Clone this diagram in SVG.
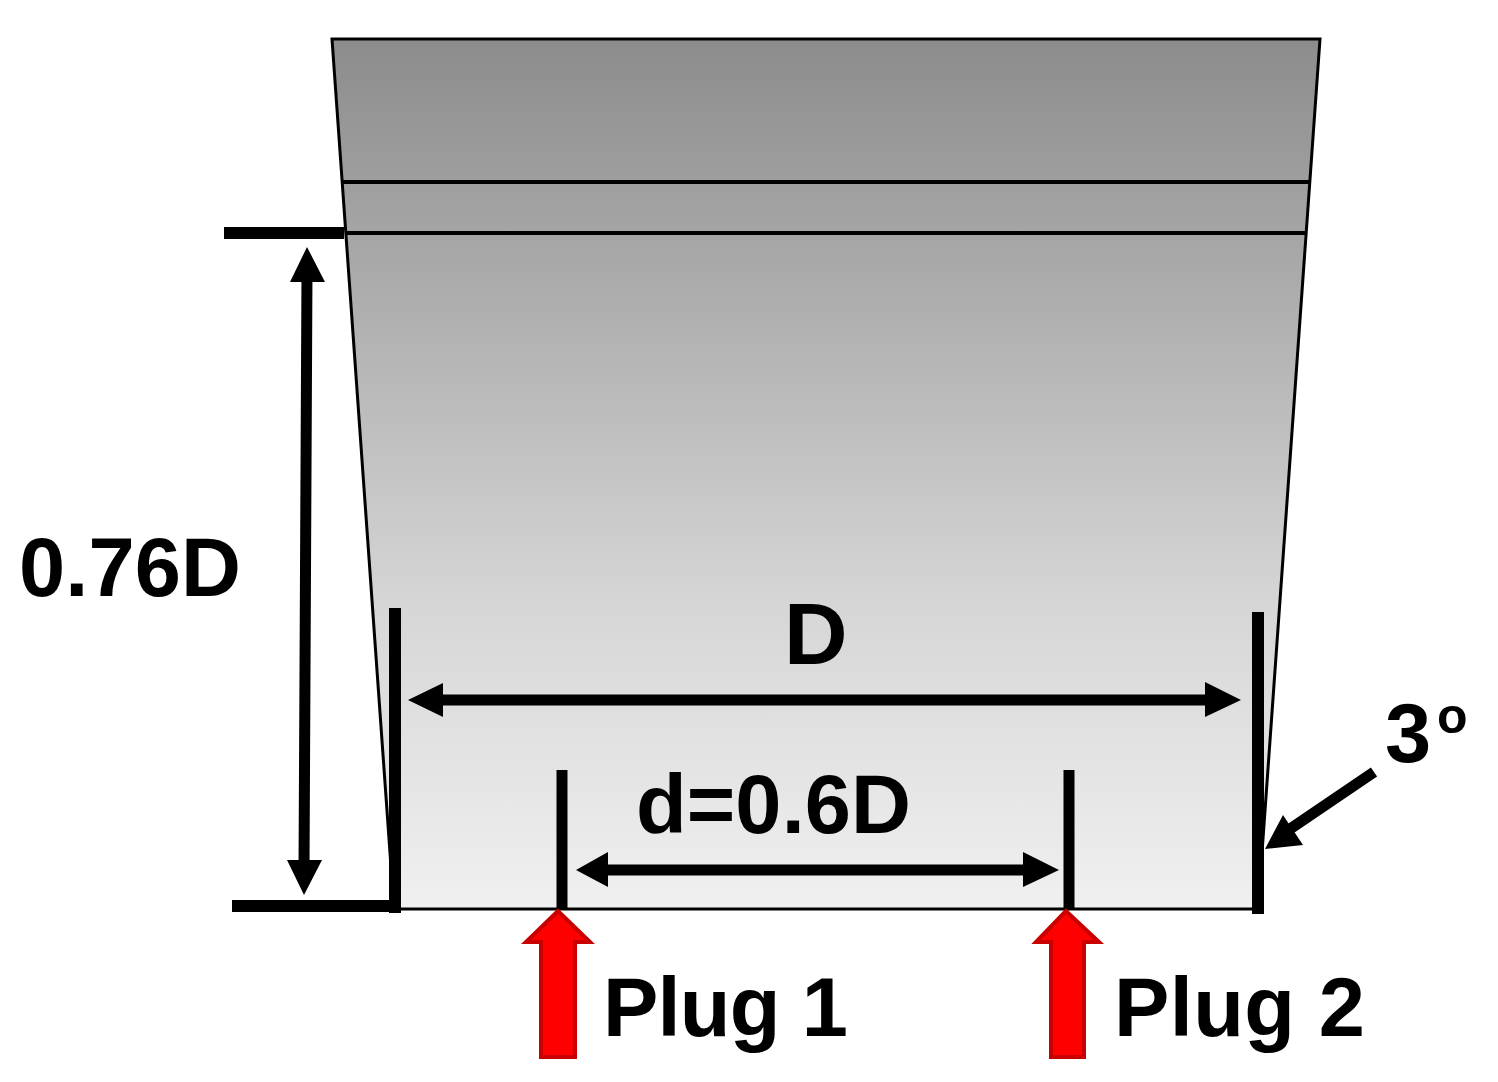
<svg xmlns="http://www.w3.org/2000/svg" width="1498" height="1082" viewBox="0 0 1498 1082">
<style>
text{font-family:"Liberation Sans",Arial,sans-serif;font-weight:700;font-size:83px;fill:#000}
.k{stroke:#000;fill:none}
.h{fill:#000}
.r{fill:#f00;stroke:#c80000;stroke-width:4}
</style>
<defs><linearGradient id="g" x1="0" y1="0" x2="0" y2="1"><stop offset="0" stop-color="#8c8c8c"/><stop offset=".25" stop-color="#a8a8a8"/><stop offset=".65" stop-color="#d6d6d6"/><stop offset="1" stop-color="#f0f0f0"/></linearGradient></defs>
<rect width="1498" height="1082" fill="#fff"/>
<g id="cup">
<path d="M332 39H1320L1258 909H394Z" class="k" stroke-width="3" style="fill:url(#g)"/>
<path class="k" stroke-width="4" d="M343 182H1310M346 233H1306"/>
</g>
<g id="walls">
<path class="k" stroke-width="12" d="M395 608V913M1258 612V914"/>
<path class="k" stroke-width="11" d="M562 770V910M1069 770V910"/>
<path class="k" stroke-width="12" d="M224 233H344M232 906H396"/>
</g>
<g id="connectors">
<path class="k" stroke-width="11" d="M307 270L304 870M430 700H1215M600 870H1035M1374 772L1290 829"/>
<path class="h" d="M307 247L290 282H325ZM304 895L287 860H322ZM408 700L443 683V717ZM1241 700L1205 682V717ZM576 870L608 852V887ZM1059 870L1023 852V887ZM1265 849L1283 815L1303 845Z"/>
</g>
<g id="plug1"><path class="r" d="M558 911L526 942H541V1057H575V942H590Z"/><text x="603" y="1036" textLength="245">Plug 1</text></g>
<g id="plug2"><path class="r" d="M1066 911L1036 942H1051V1057H1084V942H1099Z"/><text x="1114" y="1036" textLength="251">Plug 2</text></g>
<g id="labels">
<text x="19" y="596" textLength="222">0.76D</text>
<text x="784" y="664" style="font-size:88px">D</text>
<text x="636" y="833" textLength="275">d=0.6D</text>
<text x="1385" y="762">3</text>
<text x="1437" y="733" style="font-size:50px">o</text>
</g>
</svg>
